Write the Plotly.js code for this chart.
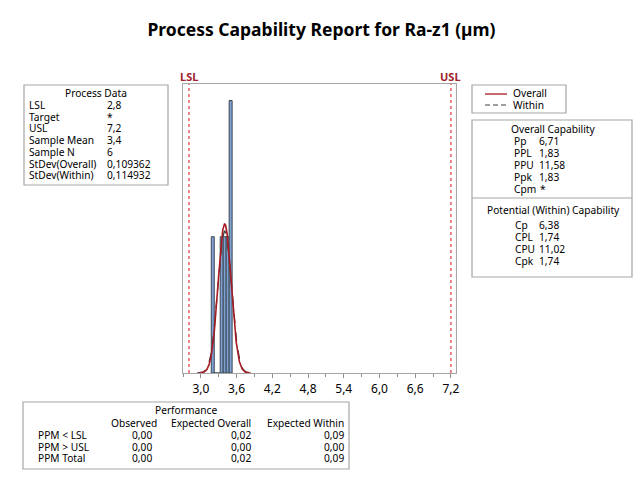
<!DOCTYPE html>
<html>
<head>
<meta charset="utf-8">
<script src="https://cdn.plot.ly/plotly-3.0.1.min.js"></script>
<style>html,body{margin:0;padding:0;background:#fff;}#chart{width:643px;height:484px;}</style>
</head>
<body>
<div id="chart"></div>
<script>
// ---------- data ----------
const titleText = "Process Capability Report for Ra-z1 (µm)";
const LSL = 2.8;
const USL = 7.2;
const sampleMean = 3.4;
const sampleN = 6;
const sdOverall = 0.109362;
const sdWithin = 0.114932;
const binWidth = 0.05;
const binCenters = [3.20, 3.25, 3.30, 3.35, 3.40, 3.45, 3.50];
const binCounts  = [1, 0, 0, 1, 1, 1, 2];
const xTickVals = [3.0, 3.6, 4.2, 4.8, 5.4, 6.0, 6.6, 7.2];

const processLabels = ["LSL", "Target", "USL", "Sample Mean", "Sample N", "StDev(Overall)", "StDev(Within)"];
const processValues = ["2,8", "*", "7,2", "3,4", "6", "0,109362", "0,114932"];

const overallLabels = ["Pp", "PPL", "PPU", "Ppk", "Cpm"];
const overallValues = ["6,71", "1,83", "11,58", "1,83", "*"];
const withinLabels = ["Cp", "CPL", "CPU", "Cpk"];
const withinValues = ["6,38", "1,74", "11,02", "1,74"];

const perfColumns = ["Observed", "Expected Overall", "Expected Within"];
const perfRows = ["PPM < LSL", "PPM > USL", "PPM Total"];
const perfObserved = ["0,00", "0,00", "0,00"];
const perfExpOverall = ["0,02", "0,00", "0,02"];
const perfExpWithin = ["0,09", "0,00", "0,09"];

// ---------- helpers ----------
const W = 643, H = 484;
const px = x => x / W;
const py = y => 1 - y / H;
const FONT = "Noto Sans";
const TXT = "#000000";
const BOX = "#a6a6a6";
const FS = 10.2;

function normalCurve(mu, sd) {
  const xs = [], ys = [];
  const n = 200;
  for (let i = 0; i <= n; i++) {
    const x = mu - 4 * sd + (8 * sd) * i / n;
    xs.push(x);
    ys.push(Math.exp(-0.5 * Math.pow((x - mu) / sd, 2)) / (sd * Math.sqrt(2 * Math.PI)));
  }
  return {xs, ys};
}

const density = binCounts.map(c => c / (sampleN * binWidth));
const cO = normalCurve(sampleMean, sdOverall);
const cW = normalCurve(sampleMean, sdWithin);

const traces = [
  {type: "bar", x: binCenters, y: density, width: binWidth,
   marker: {color: "#7ea2d4", line: {color: "#3c4650", width: 1}},
   hoverinfo: "skip", showlegend: false},
  {type: "scatter", mode: "lines", x: cW.xs, y: cW.ys,
   line: {color: "#404040", width: 1.3, dash: "dash"}, hoverinfo: "skip", showlegend: false},
  {type: "scatter", mode: "lines", x: cO.xs, y: cO.ys,
   line: {color: "#a51c24", width: 1.6}, hoverinfo: "skip", showlegend: false}
];

const shapes = [];
const annotations = [];

function rect(x0, y0, x1, y1) {
  shapes.push({type: "rect", xref: "paper", yref: "paper",
    x0: px(x0), x1: px(x1), y0: py(y1), y1: py(y0),
    line: {color: BOX, width: 1.2}, fillcolor: "rgba(0,0,0,0)"});
}
function hline(x0, x1, y, color, dash, width) {
  shapes.push({type: "line", xref: "paper", yref: "paper",
    x0: px(x0), x1: px(x1), y0: py(y), y1: py(y),
    line: {color: color, width: width || 1.2, dash: dash || "solid"}});
}
function txt(x, y, s, anchor, opts) {
  opts = opts || {};
  annotations.push({xref: "paper", yref: "paper", x: px(x), y: py(y),
    text: s, showarrow: false, xanchor: anchor || "left", yanchor: "middle", borderpad: 0,
    font: {family: FONT, size: opts.size || FS, color: opts.color || TXT, weight: opts.weight || 400}});
}

// spec lines (data coords)
[LSL, USL].forEach(v => {
  shapes.push({type: "line", xref: "x", yref: "paper", x0: v, x1: v,
    y0: py(373), y1: py(84), line: {color: "#e0464b", width: 1.3, dash: "dot"}});
  annotations.push({xref: "x", yref: "paper", x: v, y: py(77), text: v === LSL ? "LSL" : "USL",
    showarrow: false, xanchor: "center", yanchor: "middle", borderpad: 0,
    font: {family: FONT, size: 11, color: "#a0222a", weight: 700}});
});

// Process Data box
rect(24, 85, 168, 185);
txt(96, 93, "Process Data", "center");
processLabels.forEach((l, i) => {
  const y = 105 + i * 11.7;
  txt(28, y, l, "left");
  txt(106, y, processValues[i], "left");
});

// Legend box
rect(472, 85, 566, 113);
hline(485, 507, 94, "#b5393f", "solid", 1.5);
hline(485, 507, 105, "#404040", "5px,3px", 1.2);
txt(512, 93.5, "Overall", "left");
txt(512, 104.5, "Within", "left");

// Capability box
rect(472, 120, 632, 277);
txt(553, 129, "Overall Capability", "center");
overallLabels.forEach((l, i) => {
  const y = 141 + i * 12;
  txt(513, y, l, "left");
  if (overallValues[i] === "*") txt(543, y, overallValues[i], "center");
  else txt(538, y, overallValues[i], "left");
});
hline(472, 632, 198, BOX, "solid", 1.2);
txt(553, 210, "Potential (Within) Capability", "center");
withinLabels.forEach((l, i) => {
  const y = 225 + i * 12;
  txt(514, y, l, "left");
  txt(538, y, withinValues[i], "left");
});

// Performance box
rect(23, 402, 349, 469);
txt(186, 410, "Performance", "center");
const colRight = [158, 252, 345];
const valRight = [153, 252, 345];
perfColumns.forEach((c, j) => txt(colRight[j], 423, c, "right"));
perfRows.forEach((r, i) => {
  const y = 435 + i * 11.5;
  txt(37, y, r, "left");
  txt(valRight[0], y, perfObserved[i], "right");
  txt(valRight[1], y, perfExpOverall[i], "right");
  txt(valRight[2], y, perfExpWithin[i], "right");
});

const layout = {
  width: W, height: H,
  margin: {l: 0, r: 0, t: 0, b: 0},
  paper_bgcolor: "#ffffff", plot_bgcolor: "#ffffff",
  separators: ",.",
  showlegend: false,
  bargap: 0,
  title: {text: "<b>" + titleText + "</b>", x: 0.5, xanchor: "center", y: py(30), yanchor: "middle",
          font: {family: FONT, size: 17.5, color: "#000000"}},
  xaxis: {domain: [px(183), px(456)], range: [2.70, 7.285],
          tickvals: xTickVals, tickformat: ".1f", ticks: "outside", ticklen: 4, tickcolor: "#8c8c8c",
          minor: {dtick: 0.3, tick0: 2.7, ticks: "outside", ticklen: 3, tickcolor: "#8c8c8c"},
          showline: true, mirror: true, linecolor: BOX, linewidth: 1.2,
          showgrid: false, zeroline: false,
          tickfont: {family: FONT, size: 12, color: TXT}},
  yaxis: {domain: [py(373), py(84)], range: [0, 7.07],
          showticklabels: false, ticks: "", showline: true, mirror: true, linecolor: BOX, linewidth: 1.2,
          showgrid: false, zeroline: false},
  shapes: shapes,
  annotations: annotations
};

Plotly.newPlot("chart", traces, layout, {displayModeBar: false, staticPlot: true});
</script>
</body>
</html>
